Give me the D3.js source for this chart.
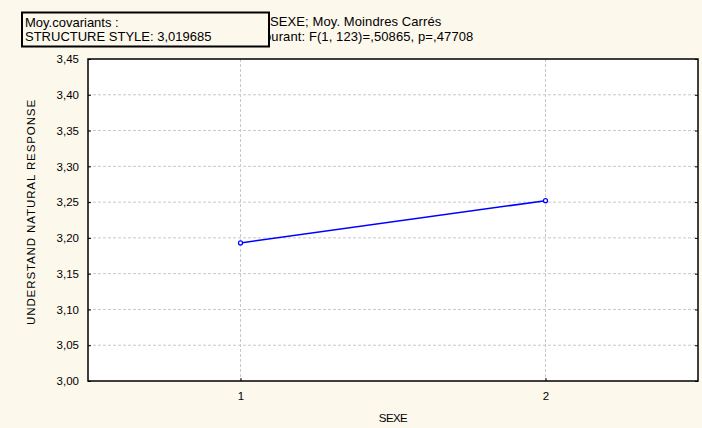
<!DOCTYPE html>
<html>
<head>
<meta charset="utf-8">
<script src="https://cdn.jsdelivr.net/npm/d3@7"></script>
<style>
  body { margin: 0; background: #fdf8ec; }
  text { font-family: "Liberation Sans", Arial, sans-serif; fill: #000; }
</style>
</head>
<body>
<div class="chart"></div>
<script>
const categories = [1, 2]
const means = [3.193, 3.252]
const yTicks = [3.00, 3.05, 3.10, 3.15, 3.20, 3.25, 3.30, 3.35, 3.40, 3.45]
const titleLines = ["SEXE; Moy. Moindres Carrés", "ourant: F(1, 123)=,50865, p=,47708"]
const boxLines = ["Moy.covariants :", "STRUCTURE STYLE: 3,019685"]

const width = 702, height = 428
const margin = {left: 88, right: 4, top: 59, bottom: 47}

const svg = d3.select(".chart").append("svg")
  .attr("width", width)
  .attr("height", height)

svg.append("rect").attr("width", width).attr("height", height).attr("fill", "#fdf8ec")

const x = d3.scaleLinear()
  .domain([0.5, 2.5])
  .range([margin.left, width - margin.right])

const y = d3.scaleLinear()
  .domain([3.00, 3.45])
  .range([height - margin.bottom, margin.top])

const fmt = d => d3.format(".2f")(d).replace(".", ",")

// plot area
svg.append("rect")
  .attr("x", x(0.5)).attr("y", y(3.45))
  .attr("width", x(2.5) - x(0.5)).attr("height", y(3.00) - y(3.45))
  .attr("fill", "#fff")

// grid
svg.append("g").selectAll("line")
  .data(yTicks.slice(1, -1))
  .join("line")
    .attr("x1", x(0.5)).attr("x2", x(2.5))
    .attr("y1", d => y(d)).attr("y2", d => y(d))
    .attr("stroke", "#c8c8c8").attr("stroke-dasharray", "3,2")

svg.append("g").selectAll("line")
  .data(categories)
  .join("line")
    .attr("x1", d => x(d)).attr("x2", d => x(d))
    .attr("y1", y(3.45)).attr("y2", y(3.00))
    .attr("stroke", "#c8c8c8").attr("stroke-dasharray", "3,2")

// axes
const yAxis = svg.append("g")
  .attr("transform", `translate(${x(0.5)},0)`)
  .call(d3.axisLeft(y).tickValues(yTicks).tickFormat(fmt).tickSize(-3).tickPadding(9))
yAxis.select(".domain").remove()
yAxis.selectAll("text").attr("font-size", 11.5)

const yAxisR = svg.append("g")
  .attr("transform", `translate(${x(2.5)},0)`)
  .call(d3.axisRight(y).tickValues(yTicks).tickFormat("").tickSize(-3))
yAxisR.select(".domain").remove()

const xAxis = svg.append("g")
  .attr("transform", `translate(0,${y(3.00)})`)
  .call(d3.axisBottom(x).tickValues(categories).tickFormat(d3.format("d")).tickSize(-3).tickPadding(11))
xAxis.select(".domain").remove()
xAxis.selectAll("text").attr("font-size", 11.5)

svg.append("rect")
  .attr("x", x(0.5)).attr("y", y(3.45))
  .attr("width", x(2.5) - x(0.5)).attr("height", y(3.00) - y(3.45))
  .attr("fill", "none").attr("stroke", "#000").attr("stroke-width", 1.5)

// labels
svg.append("text")
  .attr("x", x(1.5)).attr("y", 422)
  .attr("text-anchor", "middle").attr("font-size", 11.5)
  .attr("letter-spacing", -0.6)
  .text("SEXE")

svg.append("text")
  .attr("transform", `translate(35,212) rotate(-90)`)
  .attr("text-anchor", "middle").attr("font-size", 11.5)
  .attr("letter-spacing", 0.9)
  .text("UNDERSTAND NATURAL RESPONSE")

svg.append("g").selectAll("text")
  .data(titleLines)
  .join("text")
    .attr("x", (d, i) => i ? 264 : 270).attr("y", (d, i) => 26 + i * 15)
    .attr("font-size", 13)
    .attr("letter-spacing", 0.1)
    .text(d => d)

// line + markers
const line = d3.line().x((d, i) => x(categories[i])).y(d => y(d))
svg.append("path")
  .datum(means)
  .attr("d", line)
  .attr("fill", "none").attr("stroke", "#0000ff").attr("stroke-width", 1.5)

svg.append("g").selectAll("circle")
  .data(means)
  .join("circle")
    .attr("cx", (d, i) => x(categories[i])).attr("cy", d => y(d))
    .attr("r", 2).attr("fill", "#fff").attr("stroke", "#0000ff").attr("stroke-width", 1.2)

// covariate box
svg.append("rect")
  .attr("x", 22).attr("y", 12.5).attr("width", 247).attr("height", 34)
  .attr("fill", "#fdf8ec").attr("stroke", "#000").attr("stroke-width", 2)

svg.append("g").selectAll("text")
  .data(boxLines)
  .join("text")
    .attr("x", 25).attr("y", (d, i) => 27 + i * 14)
    .attr("font-size", 13)
    .attr("letter-spacing", 0)
    .text(d => d)
</script>
</body>
</html>
